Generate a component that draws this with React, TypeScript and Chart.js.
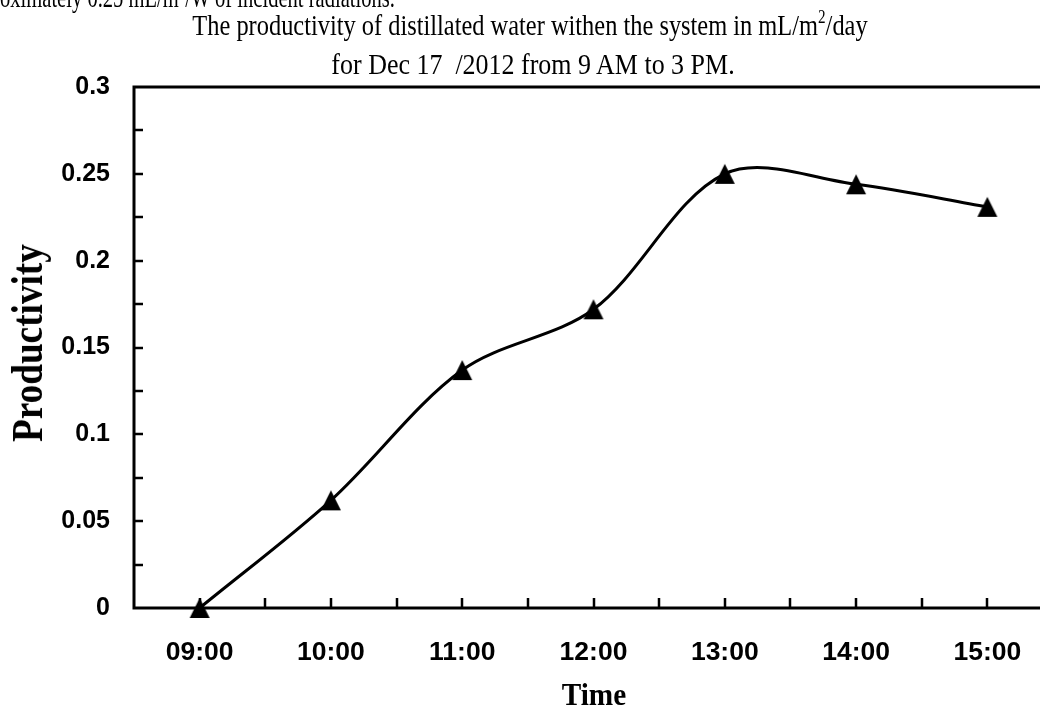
import React, { useEffect, useLayoutEffect, useRef, useState } from 'react';
import { Chart, registerables } from 'chart.js';

Chart.register(...registerables);

// ---- data ----
const timeLabels = ['09:00', '10:00', '11:00', '12:00', '13:00', '14:00', '15:00'];
const productivity = [0, 0.062, 0.137, 0.172, 0.25, 0.244, 0.231];
const yTickValues = [0, 0.05, 0.1, 0.15, 0.2, 0.25, 0.3];
const yTickLabels = ['0', '0.05', '0.1', '0.15', '0.2', '0.25', '0.3'];
const yMin = 0;
const yMax = 0.3;
const yMinorStep = 0.025;

const SERIF = '"Liberation Serif", "Times New Roman", serif';
const SANS = '"Liberation Sans", Arial, sans-serif';

function makeTriangle(): HTMLCanvasElement {
  const c = document.createElement('canvas');
  c.width = 22;
  c.height = 22;
  const g = c.getContext('2d')!;
  g.fillStyle = '#000';
  g.beginPath();
  g.moveTo(11, 1);
  g.lineTo(21, 21);
  g.lineTo(1, 21);
  g.closePath();
  g.fill();
  return c;
}

const framePlugin = {
  id: 'excelFrame',
  beforeDatasetsDraw(chart: any) {
    const { ctx, chartArea: a, scales } = chart;
    ctx.save();
    ctx.strokeStyle = '#000';
    ctx.lineWidth = 3;
    ctx.strokeRect(a.left, a.top, a.right - a.left, a.bottom - a.top);
    ctx.lineWidth = 2.5;
    ctx.beginPath();
    const ys = scales.y;
    ys.ticks.forEach((t: any) => {
      const py = Math.round(ys.getPixelForValue(t.value));
      if (py <= a.top + 1 || py >= a.bottom - 1) return;
      ctx.moveTo(a.left, py);
      ctx.lineTo(a.left + 9, py);
    });
    const xs = scales.x;
    for (let i = 1; i < timeLabels.length * 2; i++) {
      const px = Math.round(xs.getPixelForValue(i / 2 - 0.5));
      ctx.moveTo(px, a.bottom);
      ctx.lineTo(px, a.bottom - 10);
    }
    ctx.stroke();
    ctx.restore();
  },
};

type FitProps = {
  children: React.ReactNode;
  x: number;
  y: number;
  width: number;
  size: number;
  bold?: boolean;
  anchor?: 'center' | 'left';
  rotate?: number;
};

function FitText({ children, x, y, width, size, bold, anchor = 'center', rotate = 0 }: FitProps) {
  const ref = useRef<HTMLDivElement>(null);
  const [scale, setScale] = useState(1);
  useLayoutEffect(() => {
    if (ref.current) setScale(width / ref.current.offsetWidth);
  }, [width]);
  const transform =
    anchor === 'center'
      ? `translate(-50%, -50%) rotate(${rotate}deg) scaleX(${scale})`
      : `translateY(-50%) scaleX(${scale})`;
  return (
    <div
      ref={ref}
      style={{
        position: 'absolute',
        left: x,
        top: y,
        fontFamily: SERIF,
        fontSize: size,
        fontWeight: bold ? 'bold' : 'normal',
        lineHeight: 1,
        whiteSpace: 'pre',
        color: '#000',
        transform,
        transformOrigin: anchor === 'center' ? '50% 50%' : '0 50%',
      }}
    >
      {children}
    </div>
  );
}

const supStyle: React.CSSProperties = { fontSize: '0.62em', verticalAlign: '0.62em', lineHeight: 0 };

export default function App() {
  const canvasRef = useRef<HTMLCanvasElement>(null);

  useEffect(() => {
    if (!canvasRef.current) return;
    const tri = makeTriangle();
    const chart = new Chart(canvasRef.current, {
      type: 'line',
      data: {
        labels: timeLabels,
        datasets: [
          {
            data: productivity,
            borderColor: '#000',
            borderWidth: 3,
            tension: 0.33,
            fill: false,
            pointStyle: tri as any,
            pointRadius: 10,
            pointBackgroundColor: '#000',
            pointBorderColor: '#000',
            clip: false as any,
          },
        ],
      },
      options: {
        animation: false,
        responsive: false,
        devicePixelRatio: 1,
        layout: { padding: { top: 87, right: 47, left: 0, bottom: 0 } },
        plugins: {
          legend: { display: false },
          tooltip: { enabled: false },
          title: { display: false },
        },
        scales: {
          x: {
            type: 'category',
            offset: true,
            grid: { display: false, drawTicks: false },
            border: { display: false },
            ticks: {
              color: '#000',
              font: { family: SANS, size: 26.5, weight: 'bold' },
              padding: 29,
              maxRotation: 0,
              autoSkip: false,
            },
            afterFit: (s: any) => {
              s.height = 104;
            },
          },
          y: {
            type: 'linear',
            min: yMin,
            max: yMax,
            grid: { display: false, drawTicks: false },
            border: { display: false },
            ticks: {
              stepSize: yMinorStep,
              maxTicksLimit: 20,
              color: '#000',
              font: { family: SANS, size: 25, weight: 'bold' },
              padding: 24,
              callback: (v: any) => {
                const i = yTickValues.findIndex((t) => Math.abs(t - Number(v)) < 1e-9);
                return i >= 0 ? yTickLabels[i] : '';
              },
            },
            afterFit: (s: any) => {
              s.width = 134;
            },
          },
        },
      } as any,
      plugins: [framePlugin],
    });
    return () => chart.destroy();
  }, []);

  return (
    <div
      style={{
        position: 'fixed',
        left: 0,
        top: 0,
        width: 1040,
        height: 712,
        overflow: 'hidden',
        background: '#fff',
      }}
    >
      <canvas
        ref={canvasRef}
        width={1100}
        height={712}
        style={{ position: 'absolute', left: 0, top: 0, width: 1100, height: 712 }}
      />
      <FitText x={0} y={-3} width={395} size={29} anchor="left">
        oximately 0.25 mL/m<sup style={supStyle}>2</sup>/W of incident radiations.
      </FitText>
      <FitText x={530} y={25} width={675} size={29}>
        The productivity of distillated water withen the system in mL/m<sup style={supStyle}>2</sup>/day
      </FitText>
      <FitText x={533} y={64} width={403} size={29}>
        {'for Dec 17  /2012 from 9 AM to 3 PM.'}
      </FitText>
      <FitText x={28} y={343} width={198} size={44} bold rotate={-90}>
        Productivity
      </FitText>
      <FitText x={594} y={694} width={65} size={32} bold>
        Time
      </FitText>
    </div>
  );
}
